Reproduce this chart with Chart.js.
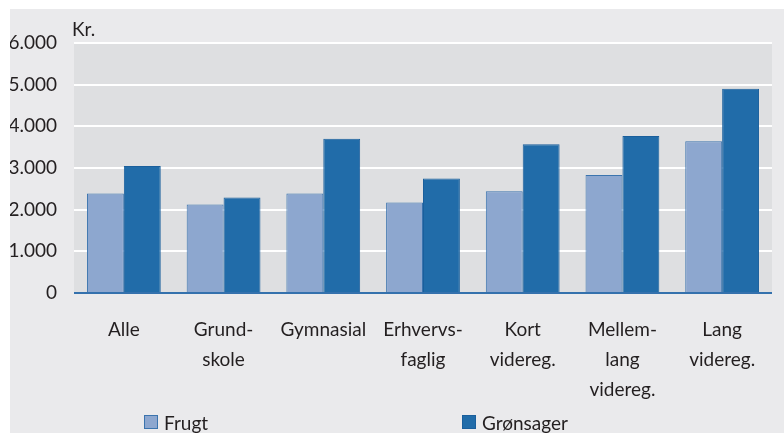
<!DOCTYPE html>
<html>
<head>
<meta charset="utf-8">
<script src="https://cdn.jsdelivr.net/npm/chart.js@4.4.1/dist/chart.umd.min.js"></script>
<style>
  html, body { margin: 0; padding: 0; background: #ffffff; }
  body { width: 784px; height: 433px; position: relative; overflow: hidden; }
  #frame { position: absolute; left: 10px; top: 9px; width: 774px; height: 424px; background: #eaeaec; }
  #frame canvas { display: block; }
  #legend { position: absolute; left: 134px; top: 402px; height: 22px; display: flex; align-items: center;
            font-family: Lato, "Open Sans", sans-serif; font-size: 19px; color: #231f20; }
  .item { display: flex; align-items: center; width: 318px; }
  .sw { width: 14px; height: 14px; box-sizing: border-box; border: 1px solid; margin-right: 6px; }
</style>
</head>
<body>
<div id="frame"><canvas id="c" width="774" height="424"></canvas><div id="legend"></div></div>
<script>
const categories = [
  "Alle",
  ["Grund-", "skole"],
  "Gymnasial",
  ["Erhvervs-", "faglig"],
  ["Kort", "videreg."],
  ["Mellem-", "lang", "videreg."],
  ["Lang", "videreg."]
];
const seriesNames = ["Frugt", "Grønsager"];
const frugt = [2390, 2125, 2390, 2175, 2440, 2830, 3645];
const groensager = [3050, 2295, 3700, 2750, 3570, 3770, 4905];
const yTicks = [0, 1000, 2000, 3000, 4000, 5000, 6000];
const yUnit = "Kr.";

const FONT = 'Lato, "Open Sans", sans-serif';
const TEXT = '#231f20';

const fmt = v => String(v).replace(/\B(?=(\d{3})+(?!\d))/g, '.');

const bgPlugin = {
  id: 'plotBg',
  beforeDraw(chart) {
    const {ctx, chartArea: a} = chart;
    ctx.save();
    ctx.fillStyle = '#dedfe1';
    ctx.fillRect(a.left, a.top, a.right - a.left, a.bottom - a.top);
    ctx.restore();
  },
  afterDraw(chart) {
    const {ctx, chartArea: a} = chart;
    ctx.save();
    ctx.fillStyle = TEXT;
    ctx.font = '19px ' + FONT;
    ctx.textAlign = 'left';
    ctx.textBaseline = 'alphabetic';
    ctx.fillText(yUnit, a.left - 2, a.top - 7);
    ctx.restore();
  }
};

const chart = new Chart(document.getElementById('c'), {
  type: 'bar',
  data: {
    labels: categories,
    datasets: [
      { label: seriesNames[0], data: frugt, backgroundColor: '#8da7cf', borderColor: '#3b74ae', borderWidth: 1 },
      { label: seriesNames[1], data: groensager, backgroundColor: '#216ca9', borderColor: '#1a5f9c', borderWidth: 1 }
    ]
  },
  options: {
    responsive: false,
    animation: false,
    events: [],
    layout: { padding: { top: 34, right: 12, left: 0, bottom: 0 } },
    datasets: { bar: { categoryPercentage: 0.74, barPercentage: 1.0 } },
    plugins: { legend: { display: false }, tooltip: { enabled: false }, title: { display: false } },
    scales: {
      x: {
        grid: { display: false },
        border: { display: false },
        ticks: { color: TEXT, font: { family: FONT, size: 19, lineHeight: 30 / 19 }, padding: 14, maxRotation: 0, autoSkip: false },
        afterFit(s) { s.height = 140; }
      },
      y: {
        min: 0, max: 6000,
        afterBuildTicks(s) { s.ticks = yTicks.map(v => ({ value: v })); },
        grid: {
          color: ctx => ctx.tick && ctx.tick.value === 0 ? '#3471ad' : '#ffffff',
          lineWidth: 2, drawTicks: false
        },
        border: { display: false },
        ticks: { color: TEXT, font: { family: FONT, size: 19 }, padding: 17, callback: v => fmt(v) },
        afterFit(s) { s.width = 64; }
      }
    }
  },
  plugins: [bgPlugin]
});

// HTML legend built from the datasets
const legend = document.getElementById('legend');
chart.data.datasets.forEach((ds) => {
  const it = document.createElement('div');
  it.className = 'item';
  const sw = document.createElement('span');
  sw.className = 'sw';
  sw.style.background = ds.backgroundColor;
  sw.style.borderColor = ds.borderColor;
  const tx = document.createElement('span');
  tx.textContent = ds.label;
  it.appendChild(sw); it.appendChild(tx);
  legend.appendChild(it);
});
</script>
</body>
</html>
